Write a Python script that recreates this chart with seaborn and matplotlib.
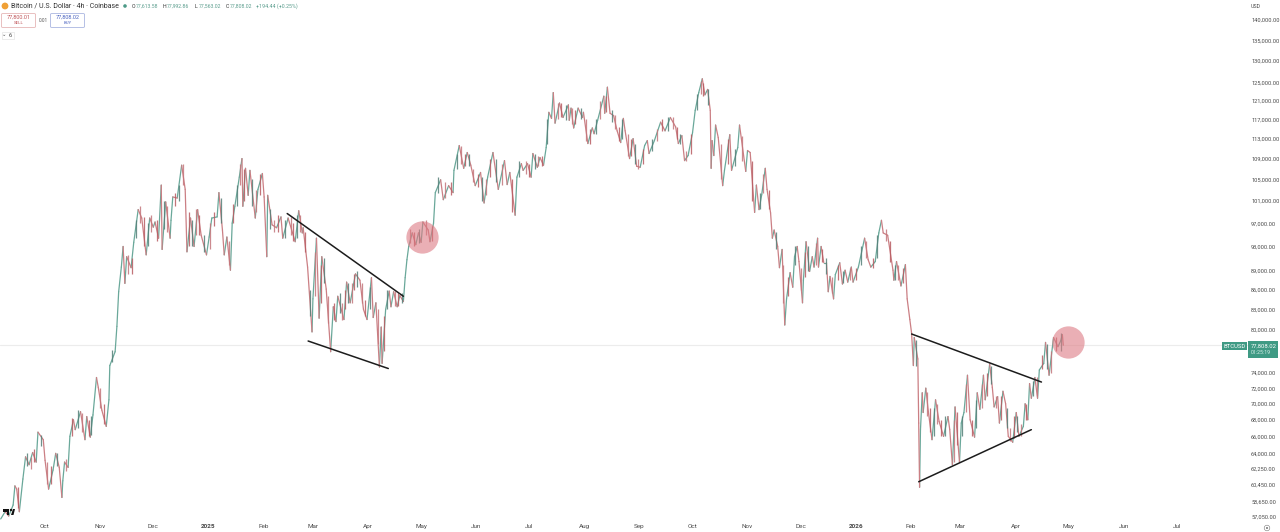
import numpy as np
import pandas as pd
import matplotlib.pyplot as plt
from matplotlib.patches import Ellipse, FancyBboxPatch, Polygon, Rectangle
from matplotlib.ticker import NullLocator
import seaborn as sns

sns.set_style("white")
plt.rcParams["font.family"] = ["Roboto", "DejaVu Sans"]

W, H = 1280, 532

# turning points: days after 2024-10-01, price in thousands USD
days_a = [-25, -22.5, -20.5, -18, -17, -16, -14.5, -12.5, -11, -9, -7, -5, -4, -1, 0, 2, 4.5, 6, 8, 9.5, 10, 11, 13, 14,
          16, 17, 20, 22.5, 23.5, 25.5, 27, 29, 30, 32, 34.5, 36, 36.5, 39.5, 40.5, 41.5, 43, 44, 45, 46, 48.5, 50,
          52.5, 54.5, 57, 59, 61, 62, 64, 65.5, 66, 68, 70.5, 71, 72, 74.5, 77, 79, 80, 82, 84, 86, 88, 91, 92.5, 94,
          97, 98, 100, 101, 102.5, 104.5, 105.5, 107, 109.5, 111, 111.5, 113, 114.5, 115.5, 118.5, 120]
price_a = [56.85, 57.6, 57.15, 58.3, 60.35, 60, 57.6, 61.1, 63.6, 62.7, 64.1, 63, 66.5, 65.6, 63.2, 60, 62.1, 64, 62.4,
           59.1, 60.9, 63, 62.4, 66, 68, 66.8, 69, 65.6, 68.4, 65.9, 68.6, 73.4, 72.1, 69.2, 67.2, 70.5, 75, 76.9,
           80.5, 85.7, 89.6, 93, 87, 91.3, 89.5, 93.7, 99.4, 97.9, 91.6, 97.9, 96.3, 97.2, 94.4, 103.9, 92.5, 100.8,
           94.4, 97.5, 101.7, 101.5, 107.7, 103.1, 92.1, 97.9, 93, 99.4, 94.9, 91.6, 94.6, 97.9, 98.1, 102.5, 95.8,
           91.6, 94.6, 89.1, 97, 100, 105.4, 109, 100, 107.1, 102, 106.7, 97.9, 103.1]

days_b = [122.5, 123.5, 125, 125.5, 128, 130.5, 133, 134, 137, 141, 143, 145, 145.5, 148, 150.5, 151, 153, 154.5, 156,
          158.5, 161, 162.5, 164, 165, 168.5, 170, 172, 175, 177.5, 179.5, 181.5, 184, 185, 186.5, 188.5, 189.5, 190,
          192, 194, 195, 196.5, 198.5, 200, 202, 203, 204, 205, 207, 209, 210.5, 212, 213, 216, 217, 219, 220, 223,
          224.5, 227.5, 230, 230.5, 233.5, 236, 238, 240, 242.5, 245.5, 247.5, 249.5, 252.5, 255.5, 259, 260.5]
price_b = [106.1, 101.7, 91.3, 102, 96.7, 96.2, 98.1, 94.4, 97.9, 93.8, 99.2, 95.3, 96.2, 89.6, 79.7, 84.6, 94.4, 81.7,
           91.3, 86.1, 76.9, 83.4, 81.2, 85, 81.5, 87.2, 84, 88.5, 87.5, 83, 81.5, 87.9, 81.8, 84, 74.8, 80.4, 75.3,
           83, 85.8, 83.4, 85.7, 83.4, 85.1, 84.2, 87.9, 90.8, 93, 95.3, 93.3, 95.3, 93.7, 97.2, 95.8, 93.8, 97,
           102.5, 104.9, 101.2, 103.8, 102.5, 106.7, 111.6, 107.1, 110.2, 107.7, 103.8, 106.3, 100.6, 105.4, 110.2,
           103.1, 108.6, 104]

days_c = [262, 265, 266, 268.5, 269.5, 272, 274, 275, 277.5, 279, 281, 282.5, 284, 285.5, 286.5, 287.5, 290, 292, 295,
          295.5, 296.5, 298, 300.5, 303, 303.5, 306, 308.5, 309.5, 311.5, 315, 315.5, 317, 318.5, 320.5, 322.5, 324.5,
          326, 327, 329.5, 331.5, 333.5, 335.5, 338, 339.5, 340.5, 343.5, 347, 349.5, 352.5, 355.5, 357, 359, 360.5,
          362.5, 365, 366.5, 368.5, 370.5, 372, 373.5, 375, 375.5, 376, 377, 378, 379.5, 382, 383, 386, 387, 390.5,
          391.5, 395, 396, 397.5, 400]
price_c = [106.3, 98.4, 105.4, 108, 106.7, 108, 105.4, 110, 107.3, 109.2, 107.7, 111.2, 118.5, 117.2, 122.8, 116.2,
           120.5, 117.4, 120.1, 116.8, 119.4, 115.2, 119.4, 117.4, 118.5, 112, 115.2, 114, 116.8, 122, 118.3, 124,
           118.3, 117.8, 114.6, 112.2, 117.2, 114.6, 109, 113, 107.5, 107.3, 111.6, 112.6, 110, 112.6, 116.4, 114.6,
           117.4, 115.4, 112, 113.6, 108.6, 109.6, 114.2, 118.9, 122.8, 125.9, 122.3, 123.5, 118.9, 107.1, 112.6,
           109.6, 115.8, 113.2, 103.8, 106.7, 113.8, 106.7, 111.2, 115.8, 106.5, 110.6, 110.2, 98.9]

days_d = [401, 402.5, 404, 406, 407, 409, 410, 411, 413, 414, 415.5, 417, 418, 420, 421.5, 422.5, 424, 425, 427, 427.5,
          429, 431, 432.5, 433.5, 435.5, 436, 437.5, 439, 440.5, 441.5, 442.5, 444.5, 445.5, 448, 449.5, 451, 452.5,
          454.5, 455.5, 458.5, 462, 464, 465.5, 468, 470, 471.5, 472.5, 475, 478, 478.5, 480, 482.5, 485, 486, 487.5,
          488.5]
price_d = [103.9, 99.4, 102.1, 107.1, 103.1, 98.8, 94.4, 95.8, 93, 89.5, 92.5, 80.7, 84.6, 88.7, 86.4, 91.3, 93, 90.5,
           84, 87.5, 93.8, 88.9, 91.3, 89.6, 94.4, 89.6, 93, 90.3, 90.3, 85.7, 88.1, 84.6, 88.4, 90.3, 86.9, 89.1,
           87.2, 89.6, 87.2, 89.6, 94.4, 90.8, 89.6, 90.5, 95.3, 97.5, 95.3, 94.9, 89.1, 87.5, 90.5, 86.6, 90, 84.6,
           81.5, 79.5]

days_e = [489.5, 490, 492, 492.5, 493, 493.5, 494.5, 495, 496.5, 498, 500, 502, 504, 506.5, 509, 510, 511.5, 513,
          515.5, 516.5, 518, 520, 521.5, 524, 525.5, 527, 529, 530, 532.5, 534, 535, 537, 538, 540, 541.5, 543, 545.5,
          547.5, 549, 551.5, 552.5, 554, 555, 556, 558, 559.5, 560.5, 563, 564, 566, 568.5, 571, 572.5, 573.5, 574]
price_e = [75, 78.9, 75.9, 67.6, 60.2, 66.8, 71.4, 68.9, 72, 68.9, 65.6, 70.5, 67.8, 66, 68.4, 66.8, 62.7, 69.6, 63,
           67.6, 68.9, 73.7, 68, 65.9, 71.4, 69.3, 73.7, 70.5, 75.2, 72.1, 69.6, 70.9, 67.6, 71.6, 70, 66, 65.3, 68.9,
           66, 67.2, 70, 68, 72.6, 70.7, 73.4, 70.7, 74.4, 75.3, 78.2, 73.7, 78.9, 77.6, 78.4, 79.3, 77.808]

# candle ranges read in the choppy stretches: day, low, high
wick_days = [-15.5, -10, -8, -6, -2.5, 1, 3.5, 7, 12, 15, 18.5, 21, 24.5, 26, 31, 33, 38, 47, 49, 51, 53.5, 55.5, 58,
             60, 63, 67, 69, 73, 75.5, 78, 81, 83, 85, 87, 89.5, 93, 95.5, 99, 103.5, 106, 108, 110, 112, 116.5, 119, 121,
             127, 129, 131.5, 135, 138.5, 140, 142, 144, 146.5, 149.5, 152, 155.5, 157, 159.5, 163, 166, 167.5, 169,
             171, 173, 174, 176, 178.5, 180.5, 183, 187.5, 191, 193, 197.5, 199, 201, 206, 208, 211, 214.5, 218, 221.5,
             225.5, 229, 232, 234.5, 237, 239, 241, 244, 246.5, 248.5, 251, 254, 257.5,
             263.5, 267, 271, 273, 276, 278, 280, 283, 289, 291, 293.5, 297, 299, 302, 305, 307, 310.5, 313, 316, 319.5,
             321.5, 323.5, 325, 328.5, 330.5, 332.5, 334.5, 337, 342, 345, 348, 351, 354, 356, 358, 361.5, 364, 367.5,
             369.5, 371, 374, 381, 385, 389, 393, 398.5,
             403, 405, 408, 412, 416, 419, 423, 426, 428.5, 430, 434.5, 438, 440, 443.5, 447, 450, 453.5, 457, 460, 463,
             467, 469, 474, 476.5, 479, 481, 483.5,
             491, 497, 499, 501, 503, 505, 507.5, 512.5, 514, 517, 519, 522.5, 525, 528, 531, 533, 536, 539, 542, 544,
             546.5, 548, 550, 553, 557, 559, 562, 565, 567, 570, 573]
wick_low = [58, 62.5, 62.2, 63, 64.8, 60.6, 60.5, 62.6, 62, 66, 67, 66.5, 66, 66.2, 69.5, 67.5, 75.5, 88.5, 88.5, 94.5, 97, 93, 93,
            95.5, 94, 96, 95.5, 100, 101, 104, 93, 93, 95, 95, 92, 92.5, 96.5, 97, 90, 97, 100, 104, 101, 100, 99, 102,
            96, 95.5, 95.5, 94.5, 95, 94, 94.5, 95.5, 92, 82, 85, 84, 87, 81, 81.5, 82.5, 81.5, 83,
            84, 84, 86, 86.5, 84, 82, 83, 78, 77, 83, 83.5, 83.5, 84, 93.5, 93, 93.5, 95, 94, 102.5,
            101.5, 102, 107, 108, 107.5, 107.5, 104.5, 103.5, 101, 102, 105.5, 104.5, 104,
            99, 105.5, 106, 105.5, 107, 107.5, 107.5, 112, 117, 117.5, 116.8, 116, 116, 117, 112.5, 112, 114, 117, 118.5, 116.5,
            115, 112.5, 113, 109.5, 109.5, 108, 107, 108, 110.5, 112.5, 114.5, 114.5, 115, 113, 112, 108.6, 110, 119,
            122.5, 122, 120, 105, 108, 107.5, 108.5, 101,
            99.5, 102.5, 99.5, 92.5, 84, 85, 90, 86, 88, 89, 90, 90.5, 88.5, 85.5, 87.5, 87, 87.5, 87.5, 90, 91,
            89.5, 91, 94, 90.5, 87.5, 87.5, 87,
            75, 68.5, 66.5, 66, 67.5, 66, 66, 63, 65, 66, 69, 66, 67, 69.5, 71, 72.5, 69.5, 68, 67, 65.5,
            65.8, 66.5, 66, 68, 71, 71, 74.5, 74.5, 74, 77, 77]
wick_high = [60.2, 64, 63.6, 64.5, 66.2, 63, 62.5, 64, 63.4, 68.2, 69.2, 68.8, 68, 68.5, 72, 70, 77.2, 91.5, 91, 97.5, 100, 98, 97,
             98.5, 97.5, 101, 100, 102.5, 104, 108, 99, 97.5, 99.5, 98.5, 95, 97, 99, 101.5, 94, 100.5, 104, 108, 107, 105, 103, 106,
             99.5, 97.5, 98.5, 97.5, 98, 97, 98.5, 98.5, 95.5, 86, 92, 90, 91, 85, 84, 85.5, 84, 86,
             87, 87, 88.5, 89, 87, 84.5, 86.5, 83, 82, 86, 85.8, 85.5, 85.5, 96, 95.5, 96, 97.5, 96.5, 105.5,
             104.5, 104.5, 110, 111.5, 110, 110, 107, 106, 105.5, 105, 109, 109, 108,
             105, 108.5, 108.5, 108, 110, 109.5, 109.5, 117, 120.5, 120.5, 120, 119.5, 119, 119.5, 117, 115, 117, 121, 122, 119,
             118, 115.5, 117, 114, 113, 112, 109, 111, 113, 115, 117, 117.5, 117.5, 115.5, 114, 110.5, 114, 122.5,
             125.5, 125, 123.5, 112, 113, 111, 113.5, 108.5,
             102.5, 106, 103, 95.5, 90, 88, 93, 89.5, 92, 93, 93.5, 92.5, 91, 88, 90, 89, 89.5, 89.5, 93, 94,
             91, 95, 96, 94, 90, 90, 89.5,
             78.5, 71.5, 69.5, 69.5, 70, 68, 68.5, 68, 69, 68.5, 72.5, 68, 70.5, 72.5, 74, 75, 71, 71, 69.5, 67,
             68.5, 68.5, 67.5, 70, 73, 73.4, 76.5, 78, 77, 79, 79.5]

price_ticks = [140000, 135000, 130000, 125000, 121000, 117000, 113000, 109000, 105000, 101000, 97000, 93000, 89000,
               86000, 83000, 80000, 74000, 72000, 70000, 68000, 66000, 64000, 62250, 60450, 58650, 57050]

month_dates = ["2024-10-01", "2024-11-01", "2024-12-01", "2025-01-01", "2025-02-01", "2025-03-01", "2025-04-01",
               "2025-05-01", "2025-06-01", "2025-07-01", "2025-08-01", "2025-09-01", "2025-10-01", "2025-11-01",
               "2025-12-01", "2026-01-01", "2026-02-01", "2026-03-01", "2026-04-01", "2026-05-01", "2026-06-01",
               "2026-07-01"]
month_labels = ["Oct", "Nov", "Dec", "2025", "Feb", "Mar", "Apr", "May", "Jun", "Jul", "Aug", "Sep", "Oct", "Nov",
                "Dec", "2026", "Feb", "Mar", "Apr", "May", "Jun", "Jul"]

# trend lines: start day, end day, start price, end price
trend_days = [[136.5, 202], [148.3, 193.5], [488.5, 561.7], [492.5, 556]]
trend_prices = [[98.7, 85], [78.4, 74.6], [79.4, 72.8], [60.8, 66.8]]

circle_days = [212.5, 576.5]
circle_prices = [94.6, 78.2]

last_price = 77808.02

UP = "#6aa89a"
DOWN = "#cb7f84"
BODY = ["#b85c62", "#557f78", "#c4767b"]
START = pd.Timestamp("2024-10-01")


def to_date(d):
    return START + pd.to_timedelta(np.asarray(d, dtype=float), unit="D")


def fx(x):
    return x / W


def fy(y):
    return 1 - y / H


def round_mark(x, y, r, **kw):
    fig.add_artist(Ellipse((fx(x), fy(y)), 2 * r / W, 2 * r / H, transform=fig.transFigure, **kw))


all_days = np.array(days_a + days_b + days_c + days_d + days_e)
all_price = np.array(price_a + price_b + price_c + price_d + price_e) * 1000

# every stretch between two turning points gets its own colour
rows = []
for i in range(len(all_days) - 1):
    direction = "up" if all_price[i + 1] >= all_price[i] else "down"
    rows.append((i, all_days[i], all_price[i], direction))
    rows.append((i, all_days[i + 1], all_price[i + 1], direction))
df = pd.DataFrame(rows, columns=["seg", "day", "price", "direction"])
df["date"] = to_date(df["day"])

fig = plt.figure(figsize=(W / 100, H / 100), dpi=100)
ax = fig.add_axes([0, fy(521), fx(1249), 521 / H])

ax.axhline(last_price, color="#ececec", lw=0.8, zorder=0)

sns.lineplot(data=df, x="date", y="price", hue="direction", units="seg", estimator=None, sort=False,
             palette={"up": UP, "down": DOWN}, legend=False, linewidth=0.9, ax=ax, zorder=2)

wick_colors = [BODY[i % 3] for i in range(len(wick_days))]
ax.vlines(to_date(wick_days), np.array(wick_low) * 1000, np.array(wick_high) * 1000,
          colors=wick_colors, lw=0.9, alpha=0.85, zorder=2)

for td, tp in zip(trend_days, trend_prices):
    ax.plot(to_date(td), np.array(tp) * 1000, color="#1c1c1c", lw=1.1, solid_capstyle="round", zorder=3)

circles = pd.DataFrame({"date": to_date(circle_days), "price": np.array(circle_prices) * 1000})
sns.scatterplot(data=circles, x="date", y="price", s=540, color="#dd7b84", alpha=0.6, linewidth=0, ax=ax, zorder=4)

ax.set_yscale("log")
ax.set_ylim(56640, 145150)
ax.set_xlim(to_date(-25.4), to_date(678.7))
ax.yaxis.set_minor_locator(NullLocator())
ax.yaxis.tick_right()
ax.set_yticks(price_ticks)
ax.set_yticklabels([f"{p:,.2f}" for p in price_ticks])
ax.set_xticks(pd.to_datetime(month_dates))
ax.set_xticklabels(month_labels)
ax.tick_params(axis="y", length=0, pad=1.5, labelsize=4.05, labelcolor="#4a4a4a")
ax.tick_params(axis="x", length=0, pad=2, labelsize=4.6, labelcolor="#4a4a4a")
for lab in ax.get_xticklabels():
    if lab.get_text() in ("2025", "2026"):
        lab.set_fontweight("bold")
ax.set_xlabel("")
ax.set_ylabel("")
sns.despine(ax=ax, left=True, bottom=True, right=True, top=True)

# price scale header and last price tags
fig.text(fx(1251), fy(6), "USD", fontsize=3.8, color="#4a4a4a", va="center")
fig.add_artist(Rectangle((fx(1222), fy(350)), 25 / W, 8 / H, transform=fig.transFigure, color="#3f9a84", lw=0))
fig.add_artist(Rectangle((fx(1248), fy(358)), 30 / W, 17 / H, transform=fig.transFigure, color="#3f9a84", lw=0))
fig.text(fx(1234.5), fy(346), "BTCUSD", fontsize=4.2, color="white", ha="center", va="center")
fig.text(fx(1251), fy(346), "77,808.02", fontsize=4.2, color="white", va="center")
fig.text(fx(1251), fy(353), "01:25:19", fontsize=3.8, color="#d8efe9", va="center")

# header line
round_mark(5, 6, 3.4, color="#f0a035", lw=0)
fig.text(fx(11), fy(6.5), "Bitcoin / U.S. Dollar · 4h · Coinbase", fontsize=5, color="#333333", va="center")
round_mark(125, 6, 1.8, color="#4d9a87", lw=0)
ohlc = [(132, "O", "77,613.58"), (163, "H", "77,992.86"), (195, "L", "77,563.02"), (226, "C", "77,808.02")]
for x0, letter, val in ohlc:
    fig.text(fx(x0), fy(6.5), letter, fontsize=3.8, color="#333333", va="center")
    fig.text(fx(x0 + 3.5), fy(6.5), val, fontsize=3.7, color="#5c9e8e", va="center")
fig.text(fx(256), fy(6.5), "+194.44 (+0.25%)", fontsize=3.9, color="#5c9e8e", va="center")

# sell and buy buttons
for x0, edge, price, word in [(1.5, "#e5b6b6", "77,800.01", "SELL"), (50.5, "#aab6e0", "77,808.02", "BUY")]:
    fig.add_artist(FancyBboxPatch((fx(x0), fy(27.5)), 34 / W, 14 / H, boxstyle="round,pad=0,rounding_size=0.0015",
                                  transform=fig.transFigure, fc="white", ec=edge, lw=0.6))
    col = "#c0555a" if word == "SELL" else "#4a63c0"
    fig.text(fx(x0 + 17), fy(17), price, fontsize=4, color=col, ha="center", va="center")
    fig.text(fx(x0 + 17), fy(23.5), word, fontsize=3.2, color=col, ha="center", va="center")
fig.text(fx(43), fy(20.5), "0.01", fontsize=3.4, color="#555555", ha="center", va="center")
fig.add_artist(Rectangle((fx(1.5), fy(39)), 12 / W, 7 / H, transform=fig.transFigure, fc="white", ec="#e4e4e4", lw=0.5))
fig.text(fx(4.5), fy(35), "⌄", fontsize=3.8, color="#555555", ha="center", va="center", family="DejaVu Sans")
fig.text(fx(10.5), fy(35.5), "6", fontsize=4, color="#444444", ha="center", va="center")

# logo bottom left and settings icon
logo = [[(3, 509), (9, 509), (9, 515), (6.5, 515), (6.5, 511.5), (3, 511.5)],
        [(11, 515), (13, 509), (15, 509), (13.5, 515)]]
for pts in logo:
    fig.add_artist(Polygon([(fx(a), fy(b)) for a, b in pts], transform=fig.transFigure, color="#111111", lw=0))
round_mark(11, 510, 1.2, color="#111111", lw=0)
round_mark(1267, 528, 2.8, fc="white", ec="#777777", lw=0.4)
round_mark(1267, 528, 1, color="#777777", lw=0)

fig.savefig("out.png", dpi=100)
